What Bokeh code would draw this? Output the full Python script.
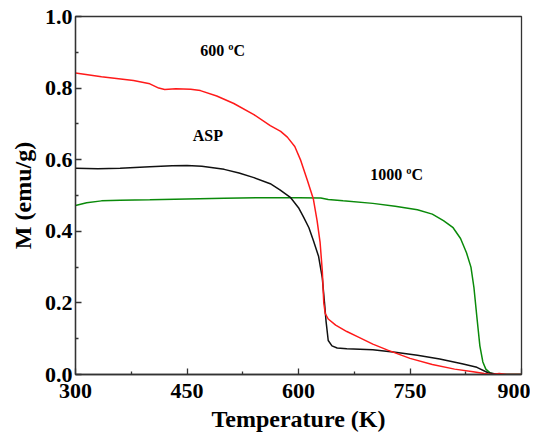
from bokeh.plotting import figure
from bokeh.models import FixedTicker, PrintfTickFormatter, Range1d, Label
from bokeh.embed import file_html
from bokeh.resources import INLINE

# ASP (black)
asp_T = [300, 330, 360, 400, 430, 450, 470, 500, 520, 540, 562, 575, 589, 600, 607, 614, 620, 627, 632, 635, 637, 640, 645, 652, 665, 700, 730, 760, 790, 820, 840, 855, 870, 900]
asp_M = [0.576, 0.575, 0.576, 0.580, 0.583, 0.584, 0.582, 0.573, 0.563, 0.550, 0.533, 0.516, 0.495, 0.466, 0.439, 0.410, 0.374, 0.330, 0.270, 0.200, 0.150, 0.095, 0.080, 0.074, 0.072, 0.069, 0.062, 0.054, 0.043, 0.030, 0.020, 0.005, 0.0, 0.0]

# 600 ºC (red)
t600_T = [300, 335, 378, 400, 412, 420, 435, 455, 468, 490, 513, 540, 562, 576, 585, 595, 603, 612, 620, 625, 629, 632, 634, 636, 640, 650, 665, 680, 700, 720, 750, 780, 810, 835, 850, 860, 870, 880, 900]
t600_M = [0.842, 0.832, 0.821, 0.812, 0.800, 0.796, 0.798, 0.797, 0.793, 0.778, 0.757, 0.726, 0.695, 0.679, 0.663, 0.637, 0.598, 0.542, 0.490, 0.430, 0.370, 0.290, 0.200, 0.170, 0.155, 0.138, 0.120, 0.105, 0.085, 0.068, 0.045, 0.028, 0.015, 0.008, 0.003, 0.0, 0.003, 0.0, 0.0]

# 1000 ºC (green)
t1000_T = [300, 315, 335, 360, 400, 450, 500, 550, 600, 630, 640, 660, 700, 730, 760, 780, 795, 808, 818, 826, 832, 836, 840, 844, 848, 852, 858, 865, 900]
t1000_M = [0.472, 0.480, 0.485, 0.487, 0.488, 0.490, 0.492, 0.494, 0.494, 0.493, 0.489, 0.485, 0.478, 0.470, 0.460, 0.448, 0.430, 0.410, 0.380, 0.340, 0.300, 0.243, 0.160, 0.080, 0.035, 0.015, 0.004, 0.0, 0.0]

x_ticks = [300, 450, 600, 750, 900]
y_ticks = [0.0, 0.2, 0.4, 0.6, 0.8, 1.0]

labels = [("600 ºC", 498, 0.905), ("ASP", 478, 0.668), ("1000 ºC", 732, 0.559)]

FONT = "Liberation Serif"

p = figure(width=530, height=434, output_backend="svg", toolbar_location=None,
           x_range=Range1d(300, 900), y_range=Range1d(0, 1.0),
           min_border_left=75, min_border_top=16, min_border_right=9, min_border_bottom=60)
p.grid.visible = False
p.outline_line_color = "#333333"
p.outline_line_width = 1.3

p.line(t1000_T, t1000_M, color="#0a8a0a", line_width=1.5)
p.line(asp_T, asp_M, color="#111111", line_width=1.5)
p.line(t600_T, t600_M, color="#ff1a1a", line_width=1.5)

for ax in (p.xaxis[0], p.yaxis[0]):
    ax.axis_line_color = "#333333"
    ax.axis_line_width = 1.3
    ax.major_tick_in = 6
    ax.major_tick_out = 0
    ax.minor_tick_in = 3
    ax.minor_tick_out = 0
    ax.major_tick_line_width = 1.3
    ax.minor_tick_line_width = 1.3
    ax.major_tick_line_color = "#333333"
    ax.minor_tick_line_color = "#333333"
    ax.major_label_text_font = FONT
    ax.major_label_text_font_style = "bold"
    ax.major_label_text_font_size = "22px"
    ax.major_label_text_color = "black"
    ax.axis_label_text_font = FONT
    ax.axis_label_text_font_style = "bold"
    ax.axis_label_text_font_size = "24px"
    ax.axis_label_text_color = "black"

p.xaxis[0].ticker = FixedTicker(ticks=x_ticks, minor_ticks=[375, 525, 675, 825])
p.yaxis[0].ticker = FixedTicker(ticks=y_ticks, minor_ticks=[0.1, 0.3, 0.5, 0.7, 0.9])
p.yaxis[0].formatter = PrintfTickFormatter(format="%.1f")
p.xaxis[0].axis_label = "Temperature (K)"
p.yaxis[0].axis_label = "M (emu/g)"
p.xaxis[0].major_label_standoff = 9
p.yaxis[0].major_label_standoff = 3
p.xaxis[0].axis_label_standoff = 5
p.yaxis[0].axis_label_standoff = 6

for txt, x, y in labels:
    p.add_layout(Label(x=x, y=y, text=txt, text_font=FONT, text_font_style="bold",
                       text_font_size="16px", text_align="center", text_baseline="middle",
                       text_color="black"))

open("out.html", "w").write(file_html(p, INLINE))
